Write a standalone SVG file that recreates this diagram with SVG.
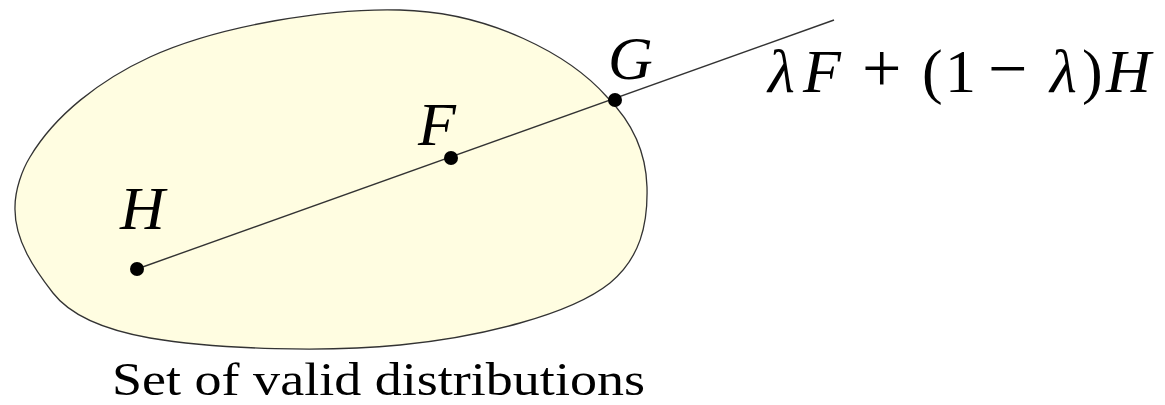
<svg xmlns="http://www.w3.org/2000/svg" width="1165" height="405" viewBox="0 0 1165 405">
  <style>
    .blob { fill: #FFFDE1; stroke: #333333; stroke-width: 1.3; }
    .seg { stroke: #333333; stroke-width: 1.4; fill: none; }
    .dot { fill: #000000; }
    .math { font-family: "Liberation Serif", "DejaVu Serif", serif; font-style: italic; font-size: 62px; fill: #000000; }
    .up { font-style: normal; }
    .op { font-style: normal; font-size: 70px; }
    .caption { font-family: "Liberation Serif", "DejaVu Serif", serif; font-size: 46px; fill: #000000; }
  </style>
  <rect width="1165" height="405" fill="#FFFFFF"/>
  <g id="set">
    <path class="blob" d="M 15,207 C 14,240 35,270 53,293 C 70,315 105,330 150,338 C 220,350 330,352 400,345 C 480,337 570,315 610,283 C 640,258 648,225 647,187 C 646,150 630,120 607,97 C 570,55 490,12 400,10 C 330,8 220,25 150,57 C 100,80 55,115 30,157 C 22,170 15,190 15,207 Z"/>
    <text class="caption" x="112" y="395" textLength="533" lengthAdjust="spacingAndGlyphs">Set of valid distributions</text>
  </g>
  <g id="connectors">
    <line class="seg" x1="137" y1="269" x2="834" y2="20"/>
  </g>
  <g id="node-H">
    <circle class="dot" cx="137" cy="269" r="7"/>
    <text class="math" x="120" y="229">H</text>
  </g>
  <g id="node-F">
    <circle class="dot" cx="451" cy="158" r="7"/>
    <text class="math" x="418" y="145">F</text>
  </g>
  <g id="node-G">
    <circle class="dot" cx="615" cy="100" r="7"/>
    <text class="math" x="608" y="79">G</text>
  </g>
  <g id="formula">
    <text class="math" y="92"><tspan x="768">λ</tspan><tspan x="803">F</tspan><tspan class="op" x="862">+</tspan><tspan class="up" x="922">(</tspan><tspan class="up" x="945">1</tspan><tspan class="op" x="988">−</tspan><tspan x="1050">λ</tspan><tspan class="up" x="1082">)</tspan><tspan x="1106">H</tspan></text>
  </g>
</svg>
